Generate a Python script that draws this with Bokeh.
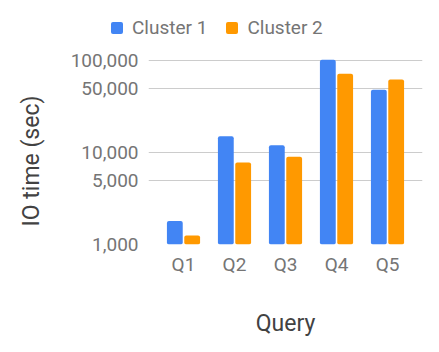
from bokeh.plotting import figure
from bokeh.layouts import column, row
from bokeh.models import (ColumnDataSource, FactorRange, Range1d, FixedTicker,
                          NumeralTickFormatter, Div)
from bokeh.transform import dodge
from bokeh.embed import file_html
from bokeh.resources import INLINE

# ---- data ----
queries = ["Q1", "Q2", "Q3", "Q4", "Q5"]
cluster1 = [1800, 15000, 12000, 102000, 48000]
cluster2 = [1250, 7800, 9000, 72000, 62000]
series_names = ["Cluster 1", "Cluster 2"]
y_ticks = [1000, 5000, 10000, 50000, 100000]
x_title = "Query"
y_title = "IO time (sec)"

BLUE = "#4285F4"
ORANGE = "#FF9900"
series_colors = [BLUE, ORANGE]
FONT = "Roboto"

source = ColumnDataSource(dict(q=queries, c1=cluster1, c2=cluster2))

# ---------- main chart ----------
p = figure(width=394, height=302,
           x_range=FactorRange(factors=queries, range_padding=0.0745),
           y_range=Range1d(1000, 128450), y_axis_type="log",
           output_backend="svg", toolbar_location=None,
           min_border_left=103, min_border_right=17,
           min_border_top=0, min_border_bottom=108)
p.outline_line_color = None
p.background_fill_color = "white"
p.border_fill_color = "white"

p.vbar(x=dodge("q", -0.17, range=p.x_range), top="c1", bottom=1000, width=0.31,
       source=source, fill_color=BLUE, line_color=None, border_radius=2)
p.vbar(x=dodge("q", 0.17, range=p.x_range), top="c2", bottom=1000, width=0.31,
       source=source, fill_color=ORANGE, line_color=None, border_radius=2)

p.xgrid.grid_line_color = None
p.ygrid.grid_line_color = "#cccccc"
p.ygrid.ticker = FixedTicker(ticks=y_ticks)
p.yaxis.ticker = FixedTicker(ticks=y_ticks)
p.yaxis.formatter = NumeralTickFormatter(format="0,0")

for ax in (p.xaxis[0], p.yaxis[0]):
    ax.axis_line_color = None
    ax.major_tick_line_color = None
    ax.minor_tick_line_color = None
    ax.major_tick_out = 0
    ax.major_tick_in = 0
    ax.minor_tick_out = 0
    ax.minor_tick_in = 0
    ax.major_label_text_font = FONT
    ax.major_label_text_font_size = "19px"
    ax.major_label_text_color = "#757575"

p.yaxis.major_label_standoff = 10
p.xaxis.major_label_standoff = 8
p.xaxis.axis_label = x_title
p.xaxis.axis_label_text_font = FONT
p.xaxis.axis_label_text_font_size = "23px"
p.xaxis.axis_label_text_font_style = "normal"
p.xaxis.axis_label_text_color = "#424242"
p.xaxis.axis_label_standoff = 31

# ---------- y-axis title strip (HTML, rotated) ----------
ytitle_html = (
    '<div style="position:relative;width:45px;height:302px;margin:0;padding:0;">'
    '<span style="position:absolute;left:31.4px;top:110.5px;white-space:nowrap;'
    'transform:translate(-50%,-50%) rotate(-90deg);'
    f'font-family:{FONT};font-size:23px;line-height:27px;color:#424242;">'
    f'{y_title}</span></div>'
)
yt = Div(text=ytitle_html, width=45, height=302, margin=0)

# ---------- legend strip (HTML) ----------
entries = ""
for i, (name, color) in enumerate(zip(series_names, series_colors)):
    gap = "19px" if i < len(series_names) - 1 else "0"
    entries += (
        f'<span style="display:inline-block;width:12px;height:12px;'
        f'background:{color};border-radius:2px;margin-right:9px;"></span>'
        f'<span style="margin-right:{gap};">{name}</span>'
    )
legend_html = (
    '<div style="position:relative;width:439px;height:50px;margin:0;padding:0;">'
    '<div style="position:absolute;left:111px;top:17px;height:22px;'
    'display:flex;align-items:center;white-space:nowrap;'
    f'font-family:{FONT};font-size:19px;line-height:22px;color:#757575;">'
    f'{entries}</div></div>'
)
lg = Div(text=legend_html, width=439, height=50, margin=0)

layout = column(lg, row(yt, p, spacing=0), spacing=0)
open("out.html", "w").write(file_html(layout, INLINE))
